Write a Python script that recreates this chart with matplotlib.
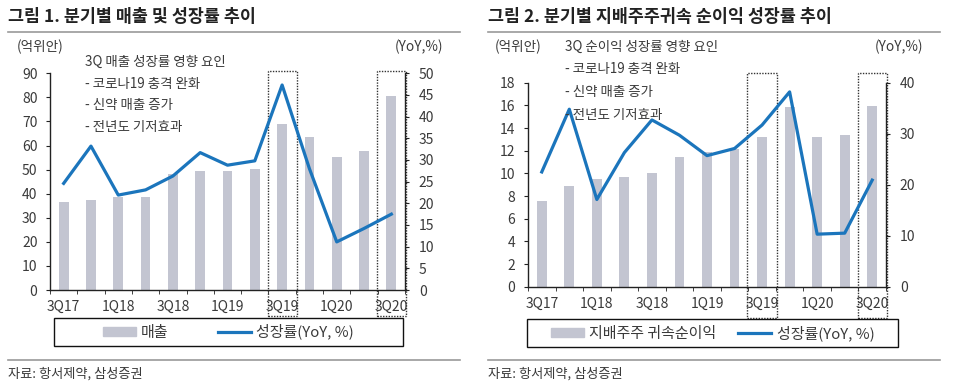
import matplotlib
matplotlib.use("Agg")
import matplotlib.pyplot as plt
from matplotlib.patches import Rectangle, Patch
from matplotlib.lines import Line2D
import matplotlib.transforms as mtransforms
import numpy as np

plt.rcParams['font.family'] = ['Noto Sans CJK KR', 'DejaVu Sans']

quarters = ["3Q17", "4Q17", "1Q18", "2Q18", "3Q18", "4Q18", "1Q19", "2Q19",
            "3Q19", "4Q19", "1Q20", "2Q20", "3Q20"]
xlabels = ["3Q17", "", "1Q18", "", "3Q18", "", "1Q19", "", "3Q19", "", "1Q20", "", "3Q20"]

sales = [36.7, 37.3, 38.7, 38.5, 48.0, 49.4, 49.4, 50.1, 68.9, 63.4, 55.2, 57.6, 80.6]
sales_yoy = [24.6, 33.2, 21.9, 23.1, 26.3, 31.7, 28.8, 29.8, 47.3, 28.0, 11.1, 14.2, 17.5]

profit = [7.56, 8.9, 9.5, 9.65, 10.0, 11.45, 11.9, 12.15, 13.2, 15.9, 13.2, 13.4, 15.95]
profit_yoy = [22.5, 34.8, 17.1, 26.3, 32.7, 29.7, 25.7, 27.1, 31.7, 38.2, 10.3, 10.5, 20.9]

highlight = ["3Q19", "3Q20"]

W, H = 960, 388
BAR = "#c3c5d1"
LINE = "#1b75bc"
TXT = "#3a3a3a"

fig = plt.figure(figsize=(W / 100, H / 100), dpi=100)


def fx(x):
    return x / W


def fy(y):
    return 1 - y / H


def make_panel(x0, x1, ytop, ybot, bars, line, lmax, lstep, rmax, rstep,
               box_top, box_bot, title, note_lines, note_x, note_y0, note_dy,
               legend_label, leg_box, colspace, rule_x0, rule_x1, unit_x, yoy_x):
    ax = fig.add_axes([fx(x0), fy(ybot), (x1 - x0) / W, (ybot - ytop) / H])
    ax2 = ax.twinx()
    idx = np.arange(len(quarters))
    ax.bar(idx, bars, width=0.36, color=BAR, zorder=2)
    ax2.plot(idx, line, color=LINE, lw=2.3, zorder=3)
    ax.set_xlim(-0.5, len(quarters) - 0.5)
    ax.set_ylim(0, lmax)
    ax2.set_ylim(0, rmax)
    ax.set_yticks(np.arange(0, lmax + 0.01, lstep))
    ax2.set_yticks(np.arange(0, rmax + 0.01, rstep))
    ax.set_xticks(idx)
    ax.set_xticklabels(xlabels)
    ax.set_xticks(np.arange(-0.5, len(quarters)), minor=True)
    ax.tick_params(axis='x', which='major', length=0, pad=7, labelsize=10, labelcolor=TXT)
    ax.tick_params(axis='x', which='minor', length=3, direction='out', color='#222')
    ax.tick_params(axis='y', length=3, direction='out', pad=6, labelsize=10, labelcolor=TXT, color='#222')
    ax2.tick_params(axis='y', length=3, direction='out', pad=7, labelsize=10, labelcolor=TXT, color='#222')
    for a in (ax, ax2):
        a.spines['top'].set_visible(False)
        for s in ('left', 'right', 'bottom'):
            a.spines[s].set_color('#222')
            a.spines[s].set_linewidth(1.0)
    ax.spines['right'].set_visible(False)
    ax2.spines['left'].set_visible(False)
    ax2.spines['bottom'].set_visible(False)

    # dotted highlight boxes
    trans = mtransforms.blended_transform_factory(ax.transData, ax.transAxes)
    ya0 = (ybot - box_bot) / (ybot - ytop)
    ya1 = (ybot - box_top) / (ybot - ytop)
    for q in highlight:
        i = quarters.index(q)
        r = Rectangle((i - 0.53, ya0), 1.06, ya1 - ya0, transform=trans,
                      fill=False, ls=(0, (1, 1)), lw=1.0, ec='#333', clip_on=False, zorder=4)
        ax.add_patch(r)

    # title and rules
    fig.text(fx(rule_x0), fy(17), title, fontsize=12.5, fontweight='bold', color='#222', va='center', ha='left')
    fig.add_artist(Line2D([fx(rule_x0), fx(rule_x1)], [fy(32), fy(32)], color='#9a9a9a', lw=1.2))
    fig.add_artist(Line2D([fx(rule_x0), fx(rule_x1)], [fy(360), fy(360)], color='#9a9a9a', lw=1.2))
    fig.text(fx(rule_x0), fy(374), "자료: 항서제약, 삼성증권", fontsize=9.5, color=TXT, va='center', ha='left')
    fig.text(fx(unit_x), fy(47), "(억위안)", fontsize=9.8, color=TXT, va='center', ha='left')
    fig.text(fx(yoy_x), fy(47), "(YoY,%)", fontsize=9.8, color=TXT, va='center', ha='left')
    for k, t in enumerate(note_lines):
        fig.text(fx(note_x), fy(note_y0 + k * note_dy), t, fontsize=9.7, color=TXT, va='center', ha='left')

    # legend
    lx0, ly0, lx1, ly1 = leg_box
    fig.add_artist(Rectangle((fx(lx0), fy(ly1)), (lx1 - lx0) / W, (ly1 - ly0) / H,
                             transform=fig.transFigure, fill=False, ec='#111', lw=1.0))
    handles = [Patch(color=BAR, label=legend_label),
               Line2D([0], [0], color=LINE, lw=2.3, label="성장률(YoY, %)")]
    fig.legend(handles=handles, loc='center', bbox_to_anchor=(fx((lx0 + lx1) / 2), fy((ly0 + ly1) / 2)),
               ncol=2, frameon=False, fontsize=10.8, handlelength=2.2, handleheight=0.5,
               columnspacing=colspace, handletextpad=0.35, labelcolor=TXT)
    return ax, ax2


make_panel(50, 405, 73.3, 290, sales, sales_yoy, 90, 10, 50, 5,
           70.7, 316, "그림 1. 분기별 매출 및 성장률 추이",
           ["3Q 매출 성장률 영향 요인", "- 코로나19 충격 완화", "- 신약 매출 증가", "- 전년도 기저효과"],
           85, 62, 21.7, "매출", (54, 317.7, 403, 345.7), 3.3, 8, 460, 17, 395)

make_panel(528, 886, 82.7, 286.7, profit, profit_yoy, 18, 2, 40, 10,
           73.3, 318, "그림 2. 분기별 지배주주귀속 순이익 성장률 추이",
           ["3Q 순이익 성장률 영향 요인", "- 코로나19 충격 완화", "- 신약 매출 증가", "- 전년도 기저효과"],
           565, 47, 22.5, "지배주주 귀속순이익", (527, 319, 898, 346.7), 1.5, 488, 940, 495, 875)

fig.savefig("out.png", dpi=100)
